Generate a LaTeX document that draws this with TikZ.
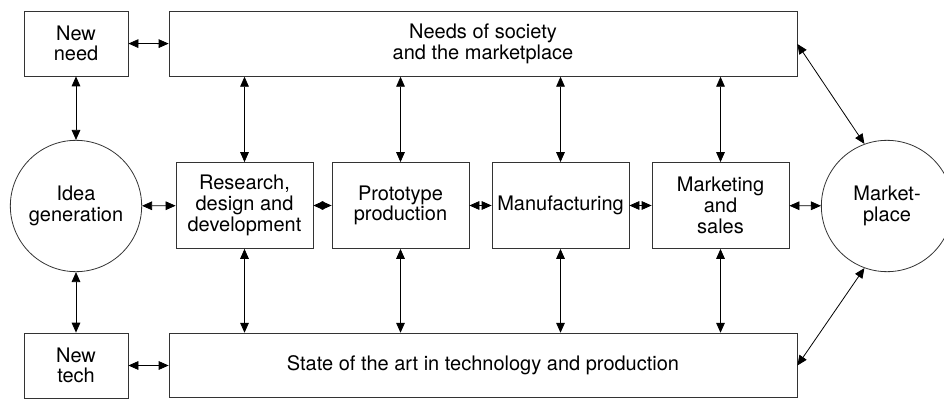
\documentclass[tikz,border=0pt]{standalone}
\usepackage{fontspec}
\setmainfont{TeX Gyre Heros}
\usetikzlibrary{arrows.meta}

\begin{document}
\begin{tikzpicture}[x=0.75pt,y=-0.75pt,
  box/.style={draw=black!80, line width=0.6pt, align=center, inner sep=0pt, font=\fontsize{15}{15.5}\selectfont},
  side/.style={box, minimum width=78pt, minimum height=48.75pt},
  wide/.style={box, minimum width=471pt, minimum height=48.5pt},
  stage/.style={box, minimum width=102.75pt, minimum height=64.5pt},
  blob/.style={box, circle, minimum size=98.5pt},
  link/.style={{Triangle[length=7.5pt,width=6.5pt]}-{Triangle[length=7.5pt,width=6.5pt]}, line width=0.6pt}]
  \useasboundingbox (0,0) rectangle (944,399);

  \node[side] (newneed) at (76,43.5) {New\\need};
  \node[wide] (society) at (483,44) {Needs of society\\and the marketplace};
  \node[blob] (idea) at (76,206) {Idea\\generation};
  \node[stage] (rdd) at (244.5,205.5) {Research,\\design and\\development};
  \node[stage] (proto) at (400.5,205.5) {Prototype\\production};
  \node[stage] (manuf) at (560.5,205.5) {Manufacturing};
  \node[stage] (mktg) at (720.5,205.5) {Marketing\\and\\sales};
  \node[blob] (market) at (887,206) {Market-\\place};
  \node[side] (newtech) at (76,365.5) {New\\tech};
  \node[wide] (sota) at (483,365.5) {State of the art in technology and production};

  \path[link]
  (newneed) edge (society)
  (newtech) edge (sota)
  (newneed) edge (idea)
  (idea) edge (newtech)
  (idea) edge (rdd)
  (rdd) edge (proto)
  (proto) edge (manuf)
  (manuf) edge (mktg)
  (mktg) edge (market)
  (society.east) edge (market.110)
  (market.250) edge (sota.east)
  ;
  \path[link]
  (rdd.north |- society.south) edge (rdd.north)
  (proto.north |- society.south) edge (proto.north)
  (manuf.north |- society.south) edge (manuf.north)
  (mktg.north |- society.south) edge (mktg.north)
  (rdd.south) edge (rdd.south |- sota.north)
  (proto.south) edge (proto.south |- sota.north)
  (manuf.south) edge (manuf.south |- sota.north)
  (mktg.south) edge (mktg.south |- sota.north)
  ;
\end{tikzpicture}
\end{document}
